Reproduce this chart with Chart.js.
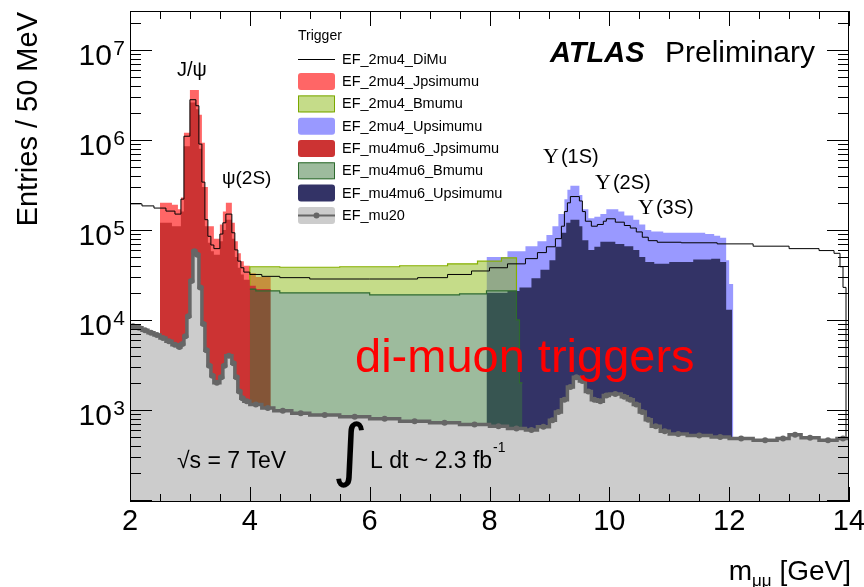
<!DOCTYPE html>
<html><head><meta charset="utf-8">
<script src="https://cdn.jsdelivr.net/npm/chart.js@4/dist/chart.umd.min.js"></script>
<style>html,body{margin:0;padding:0;background:#fff}canvas{display:block}</style>
</head><body>
<canvas id="c" width="864" height="587"></canvas>
<script>
// ---------- data (bin edges in GeV, entries per 50 MeV) ----------
const xTickValues = [2, 4, 6, 8, 10, 12, 14];
const yTickExponents = [3, 4, 5, 6, 7];

const diMuEdges = [2.0,2.2,2.4,2.6,2.75,2.85,2.9,3.0,3.1,3.15,3.2,3.25,3.3,3.35,3.4,3.5,3.55,3.6,3.7,3.75,3.8,3.85,3.9,4.0,4.2,4.5,5.0,6.0,6.8,7.3,7.7,8.0,8.3,8.6,8.8,8.95,9.1,9.2,9.25,9.3,9.35,9.5,9.55,9.6,9.7,9.8,9.9,9.95,10.1,10.25,10.35,10.45,10.55,10.65,10.8,11.2,11.8,12.4,13.0,13.5,13.75,13.85,13.9,13.95,14.0];
const diMuCounts = [1.95e5,1.85e5,1.75e5,1.62e5,1.5e5,2.2e5,1.1e6,2.8e6,2.4e6,9e5,3.4e5,1.3e5,8.5e4,6.8e4,6.2e4,9e4,1.2e5,1.5e5,9.3e4,6e4,4.5e4,3.8e4,3.4e4,3.2e4,3.05e4,2.95e4,2.85e4,2.85e4,2.95e4,3.2e4,3.5e4,3.8e4,4.2e4,4.8e4,5.6e4,6.5e4,8e4,1.1e5,1.6e5,2.0e5,2.35e5,2.1e5,1.6e5,1.25e5,1.1e5,1.15e5,1.25e5,1.33e5,1.22e5,1.12e5,1.05e5,9.5e4,8.3e4,7.6e4,7.3e4,7.2e4,7.0e4,6.6e4,6.2e4,5.9e4,5.5e4,3.9e4,2.3e4,1];

const jpsi2mu4Edges = [2.5,2.7,2.8,2.85,2.9,3.0,3.15,3.2,3.25,3.3,3.4,3.5,3.55,3.6,3.7,3.75,3.8,3.85,3.9,4.0,4.1,4.35];
const jpsi2mu4Counts = [2.0e5,1.9e5,1.7e5,2.3e5,1.2e6,3.6e6,1.9e6,9.3e5,3.0e5,1.1e5,8.0e4,1.15e5,1.6e5,2.0e5,1.2e5,7.5e4,5.5e4,4.5e4,4.0e4,3.3e4,3.0e4];

const bmumu2mu4Edges = [3.95,4.0,4.5,5.5,6.5,7.3,7.8,8.2,8.45,8.52,8.57,8.63];
const bmumu2mu4Counts = [4.5e3,3.9e4,3.85e4,3.9e4,4.0e4,4.2e4,4.5e4,4.9e4,2.0e4,1.0e4,2.1e3];

const upsi2mu4Edges = [7.95,8.3,8.6,8.8,8.95,9.05,9.15,9.25,9.3,9.35,9.5,9.55,9.65,9.75,9.85,9.95,10.15,10.25,10.4,10.5,10.6,10.7,10.9,11.6,11.75,11.85,11.95,12.0,12.07];
const upsi2mu4Counts = [5.0e4,5.8e4,6.6e4,7.5e4,8.8e4,1.1e5,1.5e5,2.2e5,2.8e5,3.1e5,2.45e5,1.7e5,1.35e5,1.4e5,1.5e5,1.7e5,1.6e5,1.45e5,1.3e5,1.15e5,1.0e5,9.6e4,9.3e4,9.0e4,8.6e4,8.2e4,4.6e4,2.5e4];

const jpsi4mu6Edges = [2.5,2.7,2.85,2.9,3.0,3.1,3.15,3.2,3.25,3.3,3.35,3.4,3.5,3.55,3.6,3.7,3.75,3.8,3.85,3.9,4.0,4.1,4.35];
const jpsi4mu6Counts = [1.2e5,1.1e5,1.6e5,8.5e5,2.6e6,2.2e6,8.0e5,3.0e5,1.1e5,7.2e4,5.8e4,5.3e4,7.5e4,1.0e5,1.3e5,8.0e4,5.0e4,3.8e4,3.2e4,2.8e4,2.4e4,2.2e4];

const bmumu4mu6Edges = [4.0,4.1,4.5,6.0,7.5,7.95,8.45,8.5,8.55];
const bmumu4mu6Counts = [2.2e4,2.1e4,2.0e4,1.9e4,1.95e4,2.1e4,1.0e4,2.0e3];

const upsi4mu6Edges = [7.95,8.3,8.5,8.7,8.85,9.0,9.1,9.2,9.28,9.35,9.5,9.55,9.65,9.75,9.85,10.1,10.25,10.4,10.5,10.6,10.75,11.0,11.4,11.7,11.85,11.95,12.05];
const upsi4mu6Counts = [2.0e4,2.1e4,2.3e4,2.9e4,3.6e4,4.6e4,6.5e4,9.3e4,1.2e5,1.3e5,1.1e5,7.7e4,6.0e4,6.5e4,7.4e4,7.0e4,6.6e4,6.0e4,5.0e4,4.4e4,4.2e4,4.4e4,4.7e4,4.8e4,4.4e4,1.3e4];

const mu20Edges = [2.0,2.1,2.2,2.3,2.4,2.5,2.6,2.7,2.8,2.85,2.9,2.95,3.0,3.05,3.1,3.15,3.2,3.25,3.3,3.35,3.4,3.5,3.55,3.6,3.7,3.75,3.8,3.85,3.9,4.0,4.2,4.4,4.7,5.0,5.5,6.0,6.5,7.0,7.5,8.0,8.3,8.6,8.8,9.0,9.1,9.2,9.3,9.4,9.5,9.6,9.7,9.8,9.9,10.0,10.2,10.3,10.4,10.5,10.6,10.7,10.85,11.0,11.3,11.7,12.0,12.4,12.8,13.0,13.2,13.5,13.8,14.0];
const mu20Counts = [8.5e3,8.2e3,7.7e3,7.2e3,6.8e3,6.3e3,5.8e3,5.3e3,5.0e3,5.4e3,6.6e3,1.1e4,2.7e4,5.8e4,5.3e4,2.3e4,9.0e3,4.6e3,3.1e3,2.4e3,2.0e3,2.3e3,3.1e3,4.0e3,3.3e3,2.3e3,1.6e3,1.35e3,1.25e3,1.15e3,1.05e3,9.8e2,9.2e2,8.8e2,8.4e2,8.0e2,7.5e2,7.2e2,6.9e2,6.6e2,6.2e2,6.0e2,6.5e2,7.7e2,9.5e2,1.3e3,1.8e3,2.3e3,2.1e3,1.6e3,1.3e3,1.25e3,1.45e3,1.5e3,1.4e3,1.3e3,1.15e3,9.5e2,7.8e2,6.6e2,5.8e2,5.4e2,5.2e2,5.0e2,4.8e2,4.6e2,4.8e2,5.3e2,4.9e2,4.6e2,4.8e2];

// ---------- helpers ----------
const SANS = '"Liberation Sans", Arial, Helvetica, sans-serif';
const SERIF = '"Liberation Serif", "Times New Roman", serif';
function hist(edges, counts) {
  const n = edges.length - 1, pts = [];
  for (let i = 0; i < n; i++) pts.push({x: edges[i], y: counts[i]});
  pts.push({x: edges[n], y: counts[n - 1]});
  return pts;
}
function centers(edges, counts) {
  const pts = [];
  for (let i = 0; i < edges.length - 1; i++) pts.push({x: (edges[i] + edges[i + 1]) / 2, y: counts[i]});
  return pts;
}
const NONE = 'rgba(0,0,0,0)';
const LIGHT_GREEN = 'rgba(140,185,20,0.5)';   // averaged hatch colour
const DARK_GREEN = 'rgba(60,120,60,0.5)';

function filled(label, edges, counts, bg, border, bw, order, kind) {
  return {label, data: hist(edges, counts), stepped: true, fill: 'start',
    backgroundColor: bg, borderColor: border || NONE, borderWidth: bw || 0,
    pointRadius: 0, order, clip: 0, legendKind: kind || 'box'};
}

const datasets = [
  {label: 'EF_2mu4_DiMu', data: hist(diMuEdges, diMuCounts), stepped: true, fill: false,
   borderColor: '#000', borderWidth: 1, pointRadius: 0, order: 2, clip: 0, legendKind: 'line', legendRow: 0},
  Object.assign(filled('EF_2mu4_Jpsimumu', jpsi2mu4Edges, jpsi2mu4Counts, '#ff6666', null, 0, 9), {legendRow: 1}),
  Object.assign(filled('EF_2mu4_Bmumu', bmumu2mu4Edges, bmumu2mu4Counts, LIGHT_GREEN, '#86b000', 1.2, 7, 'hatch'), {legendRow: 2, legendBorder: '#7aa800'}),
  Object.assign(filled('EF_2mu4_Upsimumu', upsi2mu4Edges, upsi2mu4Counts, '#9999ff', null, 0, 8), {legendRow: 3}),
  // the hatched mu4mu6_Bmumu area shows white (not the 2mu4 hatch) between its hatch pixels
  Object.assign(filled('mask', bmumu4mu6Edges, bmumu4mu6Counts, '#ffffff', null, 0, 6.5), {legendRow: -1}),
  Object.assign(filled('EF_mu4mu6_Jpsimumu', jpsi4mu6Edges, jpsi4mu6Counts, '#cc3333', null, 0, 6), {legendRow: 4}),
  Object.assign(filled('EF_mu4mu6_Bmumu', bmumu4mu6Edges, bmumu4mu6Counts, DARK_GREEN, '#2e6b2e', 1.2, 4, 'hatch'), {legendRow: 5, legendBorder: '#2e6b2e'}),
  Object.assign(filled('EF_mu4mu6_Upsimumu', upsi4mu6Edges, upsi4mu6Counts, '#333366', null, 0, 5), {legendRow: 6}),
  {label: 'EF_mu20', data: hist(mu20Edges, mu20Counts), stepped: true, fill: 'start',
   backgroundColor: '#cccccc', borderColor: '#666666', borderWidth: 3.5, pointRadius: 0,
   order: 1, clip: 0, legendKind: 'marker', legendRow: 7},
  {label: 'EF_mu20 markers', data: centers(mu20Edges, mu20Counts), showLine: false,
   pointRadius: 3, pointBackgroundColor: '#666666', pointBorderWidth: 0, order: 0, clip: 0, legendRow: -1}
];

function supText(ctx, base, sup, xRight, yBase, fBase, fSup, supRise) {
  ctx.font = fSup + 'px ' + SANS;
  const ws = ctx.measureText(sup).width;
  ctx.textAlign = 'left';
  ctx.fillText(sup, xRight - ws, yBase - supRise);
  ctx.font = fBase + 'px ' + SANS;
  ctx.textAlign = 'right';
  ctx.fillText(base, xRight - ws - 1.5, yBase);
}

const overlay = {
  id: 'overlay',
  beforeDraw(chart) {
    const ctx = chart.ctx;
    ctx.save(); ctx.fillStyle = '#fff'; ctx.fillRect(0, 0, chart.width, chart.height); ctx.restore();
  },
  afterDraw(chart) {
    const ctx = chart.ctx, xs = chart.scales.x, ys = chart.scales.y, a = chart.chartArea;
    ctx.save();
    ctx.strokeStyle = '#000'; ctx.lineWidth = 1;
    ctx.beginPath();
    for (let i = 0; i <= 24; i++) {
      const v = 2 + i * 0.5;
      const px = Math.round(xs.getPixelForValue(v)) + 0.5;
      const L = (i % 4 === 0) ? 15 : 8;
      ctx.moveTo(px, a.bottom); ctx.lineTo(px, a.bottom - L);
      ctx.moveTo(px, a.top); ctx.lineTo(px, a.top + L);
    }
    for (let e = 1; e <= 7; e++) for (let m = 1; m <= 9; m++) {
      const v = m * Math.pow(10, e);
      if (v < ys.min || v > ys.max) continue;
      const py = Math.round(ys.getPixelForValue(v)) + 0.5;
      const L = m === 1 ? 22 : 11;
      ctx.moveTo(a.left, py); ctx.lineTo(a.left + L, py);
      ctx.moveTo(a.right, py); ctx.lineTo(a.right - L, py);
    }
    ctx.stroke();
    ctx.strokeRect(a.left + 0.5, a.top + 0.5, a.right - a.left - 1, a.bottom - a.top - 1);

    // tick labels
    ctx.fillStyle = '#000';
    ctx.textBaseline = 'alphabetic';
    ctx.font = '29px ' + SANS; ctx.textAlign = 'center';
    xTickValues.forEach(v => ctx.fillText(String(v), xs.getPixelForValue(v), 530));
    yTickExponents.forEach(e => {
      const py = ys.getPixelForValue(Math.pow(10, e));
      supText(ctx, '10', String(e), 125, py + 15, 30, 21, 9.5);
    });

    // axis titles
    ctx.save();
    ctx.translate(37, 12); ctx.rotate(-Math.PI / 2);
    ctx.font = '29px ' + SANS; ctx.textAlign = 'right';
    ctx.fillText('Entries / 50 MeV', 0, 0);
    ctx.restore();
    {
      ctx.textAlign = 'left';
      ctx.font = '28px ' + SANS; const w1 = ctx.measureText('m').width; const w3 = ctx.measureText(' [GeV]').width;
      ctx.font = '17px ' + SANS; const w2 = ctx.measureText('\u03bc\u03bc').width;
      const x0 = 851 - w1 - w2 - w3;
      ctx.font = '28px ' + SANS; ctx.fillText('m', x0, 580);
      ctx.font = '17px ' + SANS; ctx.fillText('\u03bc\u03bc', x0 + w1, 586);
      ctx.font = '28px ' + SANS; ctx.fillText(' [GeV]', x0 + w1 + w2, 580);
    }

    // ATLAS label
    ctx.textAlign = 'left';
    ctx.font = 'italic bold 29px ' + SANS; ctx.fillText('ATLAS', 550, 61.5);
    ctx.font = '30px ' + SANS; ctx.fillText('Preliminary', 665, 61.5);

    // resonance labels
    ctx.font = '20px ' + SANS; ctx.fillText('J/\u03c8', 177, 76);
    ctx.font = '19px ' + SANS; ctx.fillText('\u03c8(2S)', 222, 184);
    [['(1S)', 543, 163], ['(2S)', 595, 189], ['(3S)', 638, 214]].forEach(([t, x, y]) => {
      ctx.font = '22px ' + SERIF; ctx.fillText('\u03a5', x, y);
      const w = ctx.measureText('\u03a5').width;
      ctx.font = '20px ' + SANS; ctx.fillText(t, x + w + 2, y);
    });

    // di-muon triggers
    ctx.fillStyle = '#ff0000';
    ctx.font = '47px ' + SANS; ctx.fillText('di-muon triggers', 355, 372);
    ctx.fillStyle = '#000';

    // energy / luminosity
    ctx.font = '23px ' + SANS; ctx.fillText('\u221as = 7 TeV', 177, 468);
    {
      ctx.font = '100px "DejaVu Sans", ' + SANS;
      const m = ctx.measureText('\u222b');
      const h = m.actualBoundingBoxAscent + m.actualBoundingBoxDescent;
      const size = 67 / h * 100;
      ctx.font = size + 'px "DejaVu Sans", ' + SANS;
      ctx.textAlign = 'center';
      ctx.fillText('\u222b', 350, 421 + m.actualBoundingBoxAscent * size / 100);
      ctx.textAlign = 'left';
    }
    ctx.font = '23px ' + SANS; ctx.fillText('L dt ~ 2.3 fb', 370, 468);
    const wl = ctx.measureText('L dt ~ 2.3 fb').width;
    ctx.font = '14px ' + SANS; ctx.fillText('-1', 370 + wl + 1, 452);

    // legend
    ctx.font = '14px ' + SANS; ctx.textBaseline = 'middle';
    ctx.fillText('Trigger', 298, 36);
    ctx.font = '14.5px ' + SANS;
    chart.data.datasets.forEach(ds => {
      if (ds.legendRow < 0) return;
      const yc = 59.3 + ds.legendRow * 22.3;
      const x0 = 298, w = 37, h = 17;
      if (ds.legendKind === 'line') {
        ctx.strokeStyle = '#000'; ctx.lineWidth = 1;
        ctx.beginPath(); ctx.moveTo(x0, Math.round(yc) + 0.5); ctx.lineTo(x0 + w, Math.round(yc) + 0.5); ctx.stroke();
      } else {
        ctx.fillStyle = ds.backgroundColor;
        ctx.beginPath();
        if (ctx.roundRect) ctx.roundRect(x0, yc - h / 2, w, h, 3); else ctx.rect(x0, yc - h / 2, w, h);
        ctx.fill();
        if (ds.legendKind === 'hatch') {
          ctx.strokeStyle = ds.legendBorder; ctx.lineWidth = 1;
          ctx.strokeRect(x0 + 0.5, yc - h / 2 + 0.5, w - 1, h - 1);
        }
        if (ds.legendKind === 'marker') {
          ctx.strokeStyle = '#666666'; ctx.lineWidth = 2;
          ctx.beginPath(); ctx.moveTo(x0, yc); ctx.lineTo(x0 + w, yc); ctx.stroke();
          ctx.fillStyle = '#666666';
          ctx.beginPath(); ctx.arc(x0 + w / 2, yc, 3, 0, Math.PI * 2); ctx.fill();
        }
      }
      ctx.fillStyle = '#000';
      ctx.fillText(ds.label, 342, yc + 0.5);
    });
    ctx.restore();
  }
};

new Chart(document.getElementById('c'), {
  type: 'line',
  data: {datasets},
  options: {
    responsive: false, animation: false, devicePixelRatio: 1,
    layout: {padding: {left: 130, right: 15, top: 11, bottom: 85}},
    plugins: {legend: {display: false}, tooltip: {enabled: false}},
    scales: {
      x: {type: 'linear', min: 2, max: 14, display: false},
      y: {type: 'logarithmic', min: 94.8, max: 2.71e7, display: false}
    },
    elements: {line: {tension: 0}}
  },
  plugins: [overlay]
});
</script>
</body></html>
